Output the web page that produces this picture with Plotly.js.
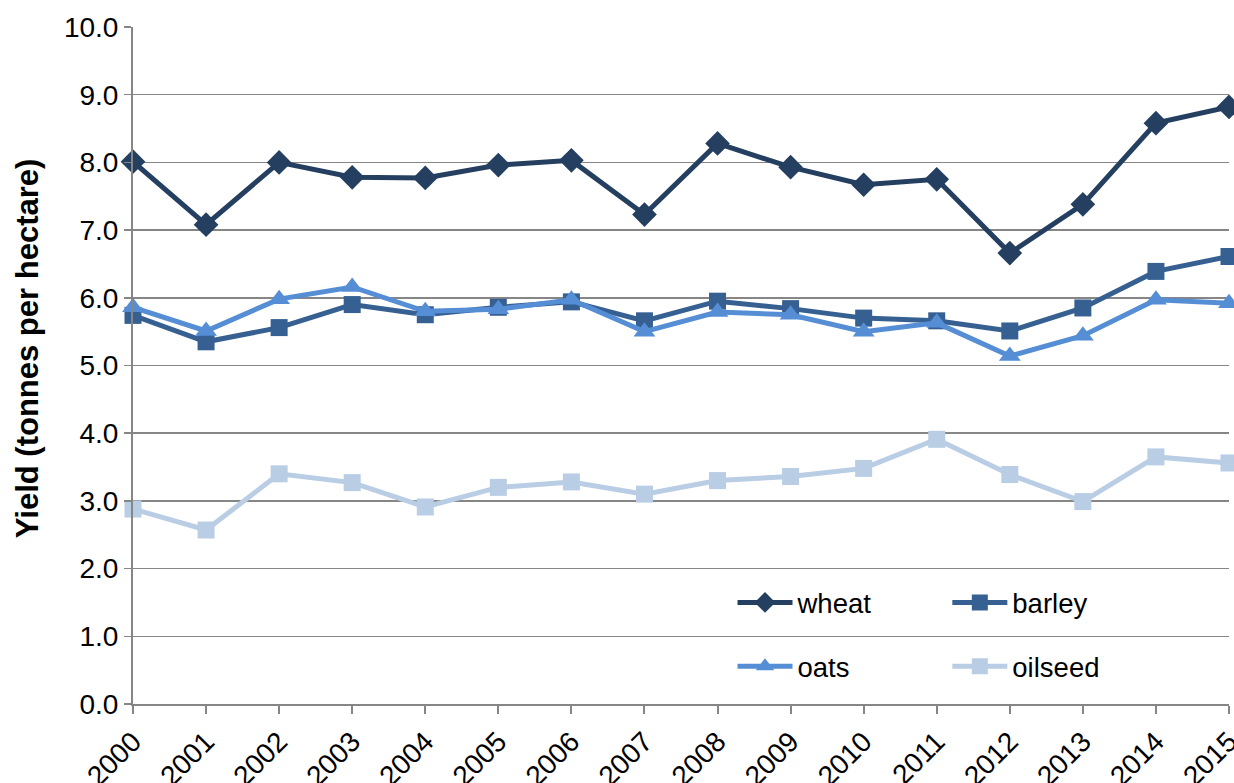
<!DOCTYPE html>
<html>
<head>
<meta charset="utf-8">
<script src="https://cdn.plot.ly/plotly-3.0.1.min.js"></script>
<style>html,body{margin:0;padding:0;background:#fff;}#chart{width:1234px;height:783px;}</style>
</head>
<body>
<div id="chart"></div>
<script>
const years = [2000,2001,2002,2003,2004,2005,2006,2007,2008,2009,2010,2011,2012,2013,2014,2015];
const yearLabels = years.map(String);
const wheat   = [8.01,7.08,8.00,7.78,7.77,7.96,8.03,7.23,8.28,7.93,7.67,7.75,6.66,7.38,8.58,8.82];
const barley  = [5.74,5.35,5.56,5.90,5.75,5.86,5.94,5.66,5.95,5.84,5.70,5.66,5.51,5.85,6.39,6.61];
const oats    = [5.86,5.51,5.98,6.16,5.80,5.83,5.97,5.50,5.79,5.75,5.50,5.63,5.14,5.44,5.97,5.92];
const oilseed = [2.88,2.57,3.40,3.27,2.91,3.20,3.28,3.10,3.30,3.36,3.48,3.91,3.39,2.99,3.65,3.56];
const yTitle = 'Yield (tonnes per hectare)';

const FONT = 'Arial, "Liberation Sans", sans-serif';
function tr(name, y, color, symbol, size, legend) {
  return {
    x: years, y: y, name: name, type: 'scatter', mode: 'lines+markers',
    line: {color: color, width: 5},
    marker: {color: color, symbol: symbol, size: size},
    cliponaxis: false, legend: legend, legendgroup: name
  };
}
const data = [
  tr('wheat', wheat, '#243F60', 'diamond', 19, 'legend'),
  tr('barley', barley, '#366092', 'square', 17, 'legend2'),
  tr('oats', oats, '#558ED5', 'triangle-up', 19, 'legend'),
  tr('oilseed', oilseed, '#B9CDE5', 'square', 17, 'legend2')
];
const legendBase = {
  orientation: 'v', traceorder: 'grouped', tracegroupgap: 25,
  font: {family: FONT, size: 27.5, color: '#000'},
  bgcolor: 'rgba(0,0,0,0)', itemwidth: 55, yanchor: 'top', xanchor: 'left'
};
const layout = {
  width: 1234, height: 783,
  margin: {l: 133, r: 5, t: 27, b: 79},
  paper_bgcolor: '#fff', plot_bgcolor: '#fff',
  font: {family: FONT, size: 28, color: '#000'},
  showlegend: true,
  legend: Object.assign({}, legendBase, {x: 0.547, y: 0.186}),
  legend2: Object.assign({}, legendBase, {x: 0.743, y: 0.186}),
  xaxis: {
    range: [2000, 2015], tickvals: years, ticktext: yearLabels, tickangle: -45,
    ticklabeloverflow: 'allow',
    showgrid: false, zeroline: false, showline: true, linecolor: '#868686', linewidth: 2,
    ticks: 'outside', ticklen: 8, tickwidth: 2, tickcolor: '#868686',
    tickfont: {family: FONT, size: 28, color: '#000'}
  },
  yaxis: {
    range: [0, 10], dtick: 1, tickformat: '.1f',
    showgrid: true, gridcolor: '#868686', gridwidth: 1.5,
    zeroline: false, showline: true, linecolor: '#868686', linewidth: 2,
    ticks: 'outside', ticklen: 7, tickwidth: 1.5, tickcolor: '#868686',
    tickfont: {family: FONT, size: 28, color: '#000'}
  },
  annotations: [{
    text: '<b>' + yTitle + '</b>', textangle: -90, showarrow: false,
    xref: 'paper', yref: 'paper', x: -0.0955, y: 0.526, xanchor: 'center', yanchor: 'middle',
    font: {family: FONT, size: 31, color: '#000'}
  }]
};
Plotly.newPlot('chart', data, layout, {displayModeBar: false, staticPlot: true});
</script>
</body>
</html>
